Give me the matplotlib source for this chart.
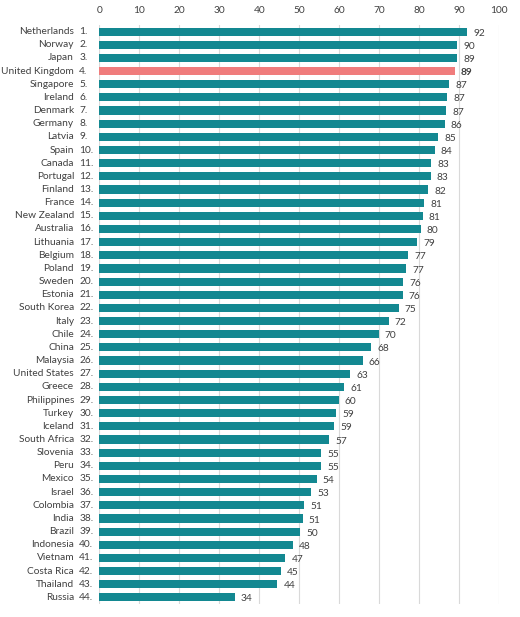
import numpy as np
from matplotlib import pyplot as plt

COUNTRIES = ["Netherlands", "Norway", "Japan", "United Kingdom", "Singapore", "Ireland",
             "Denmark", "Germany", "Latvia", "Spain", "Canada", "Portugal", "Finland",
             "France", "New Zealand", "Australia", "Lithuania", "Belgium", "Poland",
             "Sweden", "Estonia", "South Korea", "Italy", "Chile", "China", "Malaysia",
             "United States", "Greece", "Philippines", "Turkey", "Iceland", "South Africa",
             "Slovenia", "Peru", "Mexico", "Israel", "Colombia", "India", "Brazil",
             "Indonesia", "Vietnam", "Costa Rica", "Thailand", "Russia"]
# bar lengths (unrounded)
SCORES = [92.0, 89.5, 89.4, 88.8, 87.5, 87.0, 86.6, 86.3, 84.7, 83.8, 83.0, 82.8, 82.1,
          81.1, 80.8, 80.3, 79.4, 77.1, 76.7, 76.0, 75.8, 74.8, 72.3, 69.8, 68.0, 65.8,
          62.7, 61.2, 59.8, 59.2, 58.7, 57.4, 55.5, 55.5, 54.3, 52.9, 51.2, 50.8, 50.1,
          48.3, 46.5, 45.3, 44.5, 33.8]
# printed labels
LABELS = [92, 90, 89, 89, 87, 87, 87, 86, 85, 84, 83, 83, 82, 81, 81, 80, 79, 77, 77,
          76, 76, 75, 72, 70, 68, 66, 63, 61, 60, 59, 59, 57, 55, 55, 54, 53, 51, 51, 50,
          48, 47, 45, 44, 34]
HIGHLIGHT = "United Kingdom"
TICKS = [0, 10, 20, 30, 40, 50, 60, 70, 80, 90, 100]

TEAL = '#138891'
PINK = '#F07C7C'

plt.rcParams['font.family'] = ['Lato', 'DejaVu Sans']
FS = 7.3

fig = plt.figure(figsize=(5.2, 6.17), dpi=100)
ax = fig.add_axes([99.3/520, 1 - 604/617, 400/520, (604 - 25)/617])

y = np.arange(len(COUNTRIES))
colors = [PINK if c == HIGHLIGHT else TEAL for c in COUNTRIES]
ax.barh(y, SCORES, height=0.62, color=colors, zorder=2)

for i, (c, v, lab) in enumerate(zip(COUNTRIES, SCORES, LABELS)):
    bold = 'bold' if c == HIGHLIGHT else 'normal'
    ax.text(v + 1.6, i + 0.12, str(lab), va='center', ha='left', fontsize=FS,
            color='#404040', fontweight=bold)
    ax.text(-6.3, i, c, va='center', ha='right', fontsize=FS, color='#404040')
    ax.text(-5.0, i, "%d." % (i + 1), va='center', ha='left', fontsize=FS, color='#404040')

ax.set_xlim(0, 100)
ax.set_ylim(len(COUNTRIES) - 0.5, -0.5)
ax.xaxis.tick_top()
ax.set_xticks(TICKS)
ax.tick_params(axis='x', length=0, labelsize=FS, labelcolor='#404040', pad=7)
ax.set_yticks([])
ax.grid(axis='x', color='#d9d9d9', linewidth=0.8, zorder=0)
for s in ax.spines.values():
    s.set_visible(False)

plt.savefig("out.png", dpi=100)
